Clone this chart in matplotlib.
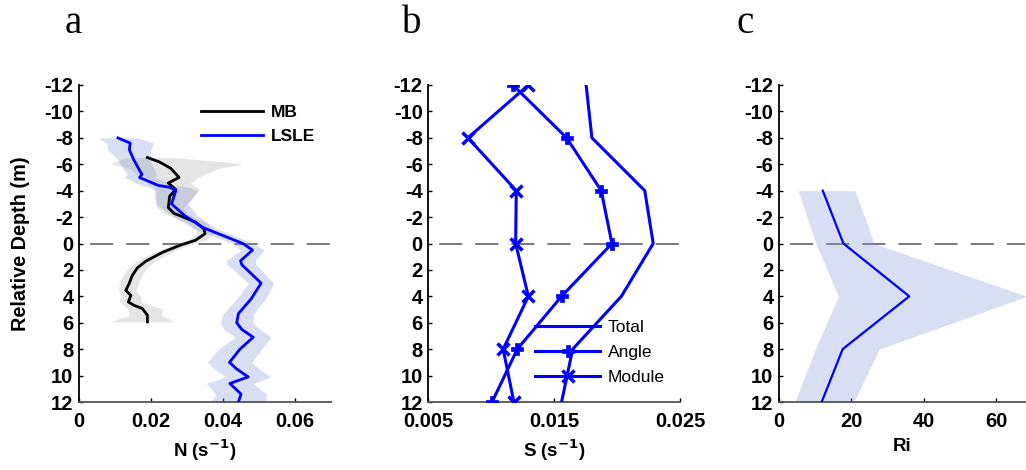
import matplotlib
matplotlib.use("Agg")
import matplotlib.pyplot as plt

plt.rcParams['axes.unicode_minus'] = False
plt.rcParams['lines.scale_dashes'] = False
plt.rcParams['font.family'] = ['Liberation Sans', 'DejaVu Sans']

# ---- panel a: buoyancy frequency profiles ----
depth_lsle = [-8.0, -7.6, -7.1, -6.4, -5.5, -5.25, -5.0, -4.4, -4.25, -4.0, -3.0, -2.1,
              -1.2, 0.0, 0.5, 1.3, 1.6, 3.0, 4.2, 5.3, 6.0, 6.5, 7.1, 8.0, 9.0, 9.5,
              10.1, 10.6, 11.4, 12.0]
n_lsle = [0.0108, 0.0142, 0.0140, 0.0151, 0.0169, 0.0175, 0.0168, 0.0220, 0.0253, 0.0269,
          0.0257, 0.0294, 0.0345, 0.0455, 0.0482, 0.0449, 0.0452, 0.0506, 0.0478, 0.0443,
          0.0438, 0.0452, 0.0484, 0.0447, 0.0418, 0.0438, 0.0470, 0.0419, 0.0450, 0.0443]
n_lsle_err = [0.0055, 0.0065, 0.0060, 0.0045, 0.0042, 0.0042, 0.0042, 0.0045, 0.0055, 0.0060,
              0.0045, 0.0035, 0.0032, 0.0030, 0.0032, 0.0040, 0.0040, 0.0035, 0.0040, 0.0042,
              0.0045, 0.0050, 0.0050, 0.0060, 0.0062, 0.0062, 0.0062, 0.0065, 0.0070, 0.0078]

depth_mb = [-6.51, -6.19, -6.0, -5.69, -5.0, -4.58, -4.08, -3.59, -2.72, -2.28, -1.98, -1.61,
            -1.11, -0.74, -0.25, 0.12, 0.68, 1.35, 1.85, 2.43, 3.05, 3.55, 3.93, 4.43,
            4.68, 4.93, 5.43, 5.93]
n_mb = [0.0190, 0.0222, 0.0235, 0.0255, 0.0278, 0.0248, 0.0269, 0.0252, 0.0248, 0.0264,
        0.0292, 0.0324, 0.0347, 0.0350, 0.0324, 0.0282, 0.0231, 0.0185, 0.0162, 0.0148,
        0.0139, 0.0130, 0.0144, 0.0137, 0.0153, 0.0176, 0.0190, 0.0190]
n_mb_lo = [0.0130, 0.0100, 0.0090, 0.0140, 0.0170, 0.0190, 0.0215, 0.0215, 0.0215, 0.0235,
           0.0265, 0.0300, 0.0325, 0.0325, 0.0300, 0.0258, 0.0208, 0.0160, 0.0138, 0.0122,
           0.0112, 0.0110, 0.0115, 0.0112, 0.0125, 0.0135, 0.0140, 0.0085]
n_mb_hi = [0.0260, 0.0400, 0.0455, 0.0390, 0.0330, 0.0310, 0.0335, 0.0320, 0.0290, 0.0300,
           0.0320, 0.0350, 0.0370, 0.0375, 0.0350, 0.0305, 0.0255, 0.0210, 0.0188, 0.0175,
           0.0165, 0.0158, 0.0170, 0.0175, 0.0200, 0.0230, 0.0230, 0.0265]

# ---- panel b: shear components ----
depth_s = [-12, -8, -4, 0, 4, 8, 12]
s_total = [0.01754, 0.0180, 0.0222, 0.02287, 0.02034, 0.01647, 0.01559]
s_angle = [0.01172, 0.01599, 0.01874, 0.01959, 0.01559, 0.01207, 0.01007]
s_module = [0.01295, 0.00815, 0.01199, 0.01194, 0.01295, 0.01095, 0.01180]

# ---- panel c: Richardson number ----
depth_ri = [-4, 0, 4, 8, 12]
ri = [12.1, 17.8, 36.0, 17.6, 11.8]
ri_lo = [5.3, 10.2, 16.4, 10.0, 4.4]
ri_hi = [21.0, 26.3, 68.5, 27.7, 20.7]

yticks = list(range(-12, 13, 2))
blue = '#0000ff'
band_blue = '#8095d9'
tick_font = dict(family='Liberation Sans', weight='bold', size=14.5)

fig = plt.figure(figsize=(10.26, 4.70), dpi=100)
W, H = 1026.0, 470.0
bottom = (H - 402) / H
height = 317 / H
ax_a = fig.add_axes([79 / W, bottom, 252 / W, height])
ax_b = fig.add_axes([428.3 / W, bottom, 251.7 / W, height])
ax_c = fig.add_axes([779 / W, bottom, 246 / W, height])


def style_axis(ax, xlim, xticks, xticklabels, xlabel):
    ax.set_ylim(12, -12)
    ax.set_xlim(*xlim)
    ax.set_yticks(yticks)
    ax.set_yticklabels([str(t) for t in yticks], fontdict=tick_font)
    ax.set_xticks(xticks)
    ax.set_xticklabels(xticklabels, fontdict=tick_font)
    for side in ('top', 'right'):
        ax.spines[side].set_visible(False)
    ax.spines['left'].set_color('black')
    ax.spines['left'].set_linewidth(1.3)
    ax.spines['bottom'].set_color('#555555')
    ax.spines['bottom'].set_linewidth(1.3)
    ax.tick_params(axis='both', direction='in', length=3, width=1, pad=4)
    ax.tick_params(axis='x', pad=7)
    ax.set_xlabel(xlabel, fontsize=13.5, fontweight='bold', labelpad=5)
    ax.axhline(0, color='#6e6e6e', lw=1.3, linestyle=(18.0, (16.6, 9.4)), zorder=1)


# panel a
lo = [n - e for n, e in zip(n_lsle, n_lsle_err)]
hi = [n + e for n, e in zip(n_lsle, n_lsle_err)]
ax_a.fill_betweenx(depth_lsle, lo, hi, color=band_blue, alpha=0.3, lw=0, zorder=2)
ax_a.fill_betweenx(depth_mb, n_mb_lo, n_mb_hi, color='#9a9a9a', alpha=0.25, lw=0, zorder=2)
ax_a.plot(n_mb, depth_mb, color='black', lw=2.0, label='MB', zorder=3)
ax_a.plot(n_lsle, depth_lsle, color=blue, lw=2.0, label='LSLE', zorder=3)
style_axis(ax_a, (0, 0.07), [0, 0.02, 0.04, 0.06], ['0', '0.02', '0.04', '0.06'],
           'N (s$^{\\mathbf{-1}}$)')
ax_a.set_ylabel('Relative Depth (m)', fontsize=14.3, fontweight='bold')
ax_a.yaxis.set_label_coords(-0.194, 0.5)
ax_a.legend(loc='upper left', bbox_to_anchor=(0.484, 0.937), frameon=False,
            borderpad=0, borderaxespad=0,
            handlelength=3.55, handletextpad=0.5, labelspacing=0.53,
            prop=dict(family='Liberation Sans', weight='bold', size=12.5))

# panel b
ax_b.plot(s_total, depth_s, color=blue, lw=2.2, label='Total', zorder=3)
ax_b.plot(s_angle, depth_s, color=blue, lw=2.2, marker='P', ms=9, mew=0.5,
          label='Angle', zorder=3)
ax_b.plot(s_module, depth_s, color=blue, lw=2.2, marker='x', ms=8.5, mew=2.5,
          label='Module', zorder=3)
style_axis(ax_b, (0.005, 0.025), [0.005, 0.015, 0.025], ['0.005', '0.015', '0.025'],
           'S (s$^{\\mathbf{-1}}$)')
ax_b.legend(loc='upper left', bbox_to_anchor=(0.424, 0.259), frameon=False,
            borderpad=0, borderaxespad=0,
            handlelength=3.75, handletextpad=0.46, labelspacing=0.56, numpoints=1,
            prop=dict(family='Liberation Sans', size=12.5))

# panel c
ax_c.fill_betweenx(depth_ri, ri_lo, ri_hi, color=band_blue, alpha=0.3, lw=0, zorder=2)
ax_c.plot(ri, depth_ri, color=blue, lw=1.6, zorder=3)
style_axis(ax_c, (0, 68), [0, 20, 40, 60], ['0', '20', '40', '60'], 'Ri')

# panel letters
for x, letter in ((73, 'a'), (412, 'b'), (745, 'c')):
    fig.text(x / W, 1 - 33 / H, letter, family='Liberation Serif', fontsize=28,
             ha='center', va='baseline')

fig.savefig('out.png', dpi=100)
